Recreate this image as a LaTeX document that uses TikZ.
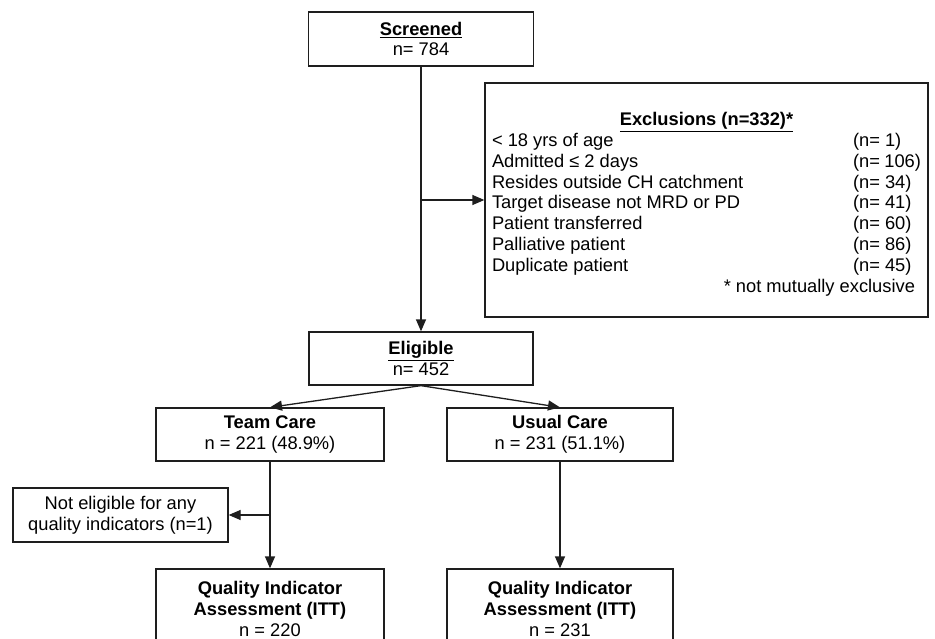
\documentclass[tikz,border=0pt]{standalone}
\usepackage{fontspec}
\setmainfont{Liberation Sans}
\usetikzlibrary{arrows.meta}
\definecolor{chartink}{HTML}{1E1E1E}

\begin{document}
\begin{tikzpicture}[x=1pt,y=-1pt,
    flowbox/.style={draw=chartink,line width=1.3pt,align=center,text=black,
      font=\fontsize{18.3}{20.8}\selectfont,inner sep=0pt},
    flowarrow/.style={draw=chartink,line width=1.3pt,-{Triangle[length=12pt,width=10pt]}}]
  \clip (0,0) rectangle (935,639);
  \node[flowbox,minimum width=225pt,minimum height=54pt] (screened) at (421,39)
    {\underline{\textbf{Screened}}\\n= 784};
  \node[flowbox,minimum width=443pt,minimum height=234pt] (excl) at (706.5,200)
    {\begin{tabular}{@{}p{361pt}@{}p{68pt}@{}}
      \multicolumn{2}{c}{\rule{0pt}{24pt}\underline{\textbf{Exclusions (n=332)*}}}\\
      < 18 yrs of age & (n= 1)\\
      Admitted ≤ 2 days & (n= 106)\\
      Resides outside CH catchment & (n= 34)\\
      Target disease not MRD or PD & (n= 41)\\
      Patient transferred & (n= 60)\\
      Palliative patient & (n= 86)\\
      Duplicate patient & (n= 45)\\
      \multicolumn{2}{r}{* not mutually exclusive}
    \end{tabular}};
  \node[flowbox,minimum width=224pt,minimum height=53pt] (eligible) at (421,358.5)
    {\underline{\textbf{Eligible}}\\n= 452};
  \node[flowbox,minimum width=228pt,minimum height=53pt] (team) at (270,434.5)
    {\textbf{Team Care}\\n = 221 (48.9\%)};
  \node[flowbox,minimum width=226pt,minimum height=53pt] (usual) at (560,434.5)
    {\textbf{Usual Care}\\n = 231 (51.1\%)};
  \node[flowbox,minimum width=215pt,minimum height=54pt] (notelig) at (120.5,515)
    {Not eligible for any\\quality indicators (n=1)};
  \node[flowbox,minimum width=228pt,minimum height=80pt] (qiteam) at (270,609)
    {\textbf{Quality Indicator}\\\textbf{Assessment (ITT)}\\n = 220};
  \node[flowbox,minimum width=226pt,minimum height=80pt] (qiusual) at (560,609)
    {\textbf{Quality Indicator}\\\textbf{Assessment (ITT)}\\n = 231};
  \coordinate (split) at (screened.south |- excl.west);
  \draw[flowarrow] (screened.south) -- (eligible.north);
  \draw[flowarrow] (split) -- (excl.west);
  \draw[flowarrow] (eligible.south) -- (team.north);
  \draw[flowarrow] (eligible.south) -- (usual.north);
  \draw[flowarrow] (team.south) -- (qiteam.north);
  \draw[flowarrow] (team.south |- notelig.east) -- (notelig.east);
  \draw[flowarrow] (usual.south) -- (qiusual.north);
\end{tikzpicture}
\end{document}
